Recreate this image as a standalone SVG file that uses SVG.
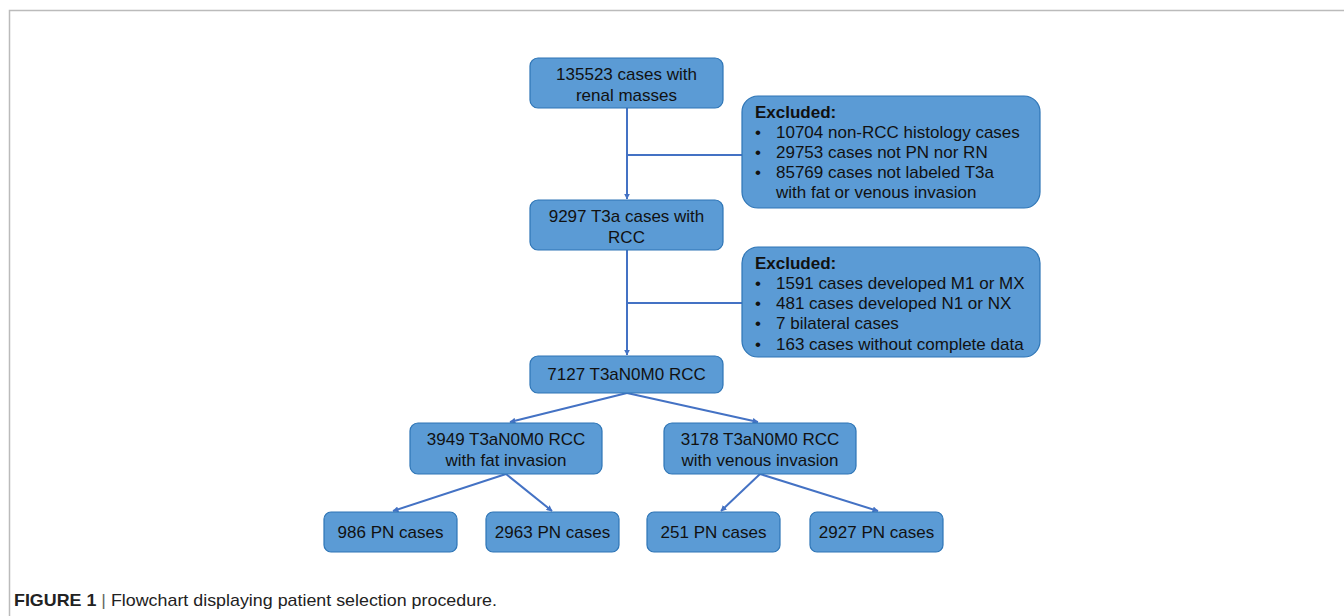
<svg xmlns="http://www.w3.org/2000/svg" width="1344" height="616" viewBox="0 0 1344 616">
<style>
.box{fill:#5B9BD5;stroke:#2E75B6;stroke-width:1.2}
.t{font-family:"Liberation Sans",Arial,sans-serif;font-size:17px;fill:#111}
.c{text-anchor:middle}
.b{font-weight:bold}
.ln{stroke:#4472C4;stroke-width:2;fill:none}
.cap{font-family:"Liberation Sans",Arial,sans-serif;font-size:17px;fill:#222}
</style>
<defs>
<marker id="ah" viewBox="0 0 10 10" refX="9" refY="5" markerWidth="6" markerHeight="6" orient="auto" markerUnits="userSpaceOnUse">
<path d="M0,0 L10,5 L0,10 z" fill="#4472C4"/>
</marker>
</defs>
<rect width="1344" height="616" fill="#fff"/>
<path d="M9.5,616 V10.5 H1344" fill="none" stroke="#bbb" stroke-width="1.5"/>
<g id="connectors">
<path class="ln" d="M627,108 V199" marker-end="url(#ah)"/>
<path class="ln" d="M627,155 H742"/>
<path class="ln" d="M627,250 V355" marker-end="url(#ah)"/>
<path class="ln" d="M627,303 H742"/>
<path class="ln" d="M627,393 L510,422" marker-end="url(#ah)"/>
<path class="ln" d="M627,393 L758,422" marker-end="url(#ah)"/>
<path class="ln" d="M506,474 L393,511" marker-end="url(#ah)"/>
<path class="ln" d="M506,474 L552,511" marker-end="url(#ah)"/>
<path class="ln" d="M760,474 L721,511" marker-end="url(#ah)"/>
<path class="ln" d="M760,474 L878,511" marker-end="url(#ah)"/>
</g>
<g id="n1"><rect class="box" x="530" y="58" width="193" height="50" rx="8"/>
<text class="t c" x="626.5" y="80">135523 cases with</text><text class="t c" x="626.5" y="101">renal masses</text></g>
<g id="ex1"><rect class="box" x="742" y="96" width="298" height="112" rx="16"/>
<text class="t b" x="755" y="118">Excluded:</text>
<text class="t" x="755" y="138">•</text><text class="t" x="776" y="138">10704 non-RCC histology cases</text>
<text class="t" x="755" y="158">•</text><text class="t" x="776" y="158">29753 cases not PN nor RN</text>
<text class="t" x="755" y="178">•</text><text class="t" x="776" y="178">85769 cases not labeled T3a</text>
<text class="t" x="776" y="198">with fat or venous invasion</text></g>
<g id="n2"><rect class="box" x="530" y="200" width="193" height="50" rx="8"/>
<text class="t c" x="626.5" y="222">9297 T3a cases with</text><text class="t c" x="626.5" y="243">RCC</text></g>
<g id="ex2"><rect class="box" x="742" y="247" width="298" height="110" rx="16"/>
<text class="t b" x="755" y="269">Excluded:</text>
<text class="t" x="755" y="289">•</text><text class="t" x="776" y="289">1591 cases developed M1 or MX</text>
<text class="t" x="755" y="309">•</text><text class="t" x="776" y="309">481 cases developed N1 or NX</text>
<text class="t" x="755" y="329">•</text><text class="t" x="776" y="329">7 bilateral cases</text>
<text class="t" x="755" y="350">•</text><text class="t" x="776" y="350">163 cases without complete data</text></g>
<g id="n3"><rect class="box" x="530" y="356" width="193" height="37" rx="8"/>
<text class="t c" x="626.5" y="380">7127 T3aN0M0 RCC</text></g>
<g id="fat"><rect class="box" x="410" y="423" width="192" height="51" rx="8"/>
<text class="t c" x="506" y="445">3949 T3aN0M0 RCC</text><text class="t c" x="506" y="466">with fat invasion</text></g>
<g id="ven"><rect class="box" x="664" y="423" width="192" height="51" rx="8"/>
<text class="t c" x="760" y="445">3178 T3aN0M0 RCC</text><text class="t c" x="760" y="466">with venous invasion</text></g>
<g id="l1"><rect class="box" x="324" y="512" width="133" height="40" rx="7"/><text class="t c" x="390.5" y="538">986 PN cases</text></g>
<g id="l2"><rect class="box" x="486" y="512" width="133" height="40" rx="7"/><text class="t c" x="552.5" y="538">2963 PN cases</text></g>
<g id="l3"><rect class="box" x="647" y="512" width="133" height="40" rx="7"/><text class="t c" x="713.5" y="538">251 PN cases</text></g>
<g id="l4"><rect class="box" x="810" y="512" width="133" height="40" rx="7"/><text class="t c" x="876.5" y="538">2927 PN cases</text></g>
<g id="caption">
<text class="cap" x="14" y="606" textLength="483" lengthAdjust="spacingAndGlyphs"><tspan font-weight="bold">FIGURE 1</tspan> <tspan fill="#666">|</tspan> Flowchart displaying patient selection procedure.</text>
</g>
</svg>
